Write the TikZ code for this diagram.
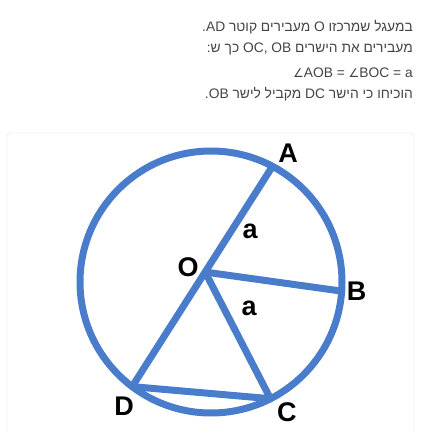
\documentclass[tikz,border=0pt]{standalone}
\usepackage{fontspec}
\setmainfont{Liberation Sans}
\newfontfamily\hebfont[Script=Hebrew]{Liberation Sans}
\newfontfamily\symfont{DejaVu Sans}
\TeXXeTstate=1
\usetikzlibrary{calc}
\definecolor{lineblue}{HTML}{4A7CCC}
\definecolor{textgray}{HTML}{444444}

\begin{document}
\begin{tikzpicture}[x=1pt,y=1pt,
  edge/.style={lineblue,line width=7pt},
  lbl/.style={font=\fontsize{27}{27}\selectfont\bfseries},
  txt/.style={anchor=base east,inner sep=0pt,text=textgray,font=\fontsize{13.8}{14}\selectfont\hebfont}]

\useasboundingbox (0,0) rectangle (425,432);
\draw[black!6,line width=0.8pt,rounded corners=3pt] (7,-10) rectangle (414,299);

% the question
\node[txt] (t1) at (413,400) {\beginR במעגל שמרכזו O מעבירים קוטר AD\kern0pt.\endR};
\node[txt] (t2) at (413,379.5) {\beginR מעבירים את הישרים \beginL OC, OB\endL{} כך ש\kern0pt:\endR};
\node[txt] (t3) at (413,354) {{\symfont\fontsize{12}{12}\selectfont ∠}AOB = {\symfont\fontsize{12}{12}\selectfont ∠}BOC = a};
\node[txt] (t4) at (413,333) {\beginR הוכיחו כי הישר DC מקביל לישר OB\kern0pt.\endR};

\begin{scope}
\coordinate (m) at (211,150);
\coordinate (a) at ($(m)+(62:131)$);
\coordinate (b) at ($(m)+(-4:131)$);
\coordinate (c) at ($(m)+(-63:131)$);
\coordinate (d) at ($(m)+(233:131)$);
\coordinate (o) at ($(d)!0.52!(a)$);

\draw[edge] (m) circle (131);
\draw[edge] (a) -- (d);
\draw[edge] (o) -- (b);
\draw[edge] (o) -- (c);
\draw[edge] (c) -- (d);

\node[lbl,shift={(15.5,13)}] (labA) at (a) {A};
\node[lbl,shift={(15,0)}] (labB) at (b) {B};
\node[lbl,shift={(16.5,-13)}] (labC) at (c) {C};
\node[lbl,shift={(-8,-20)}] (labD) at (d) {D};
\node[lbl,shift={(-17,5)}] (labO) at (o) {O};
\node[lbl,shift={(45,41)}] (angAOB) at (o) {a};
\node[lbl,shift={(44,-36)}] (angBOC) at (o) {a};
\end{scope}

\end{tikzpicture}
\end{document}
